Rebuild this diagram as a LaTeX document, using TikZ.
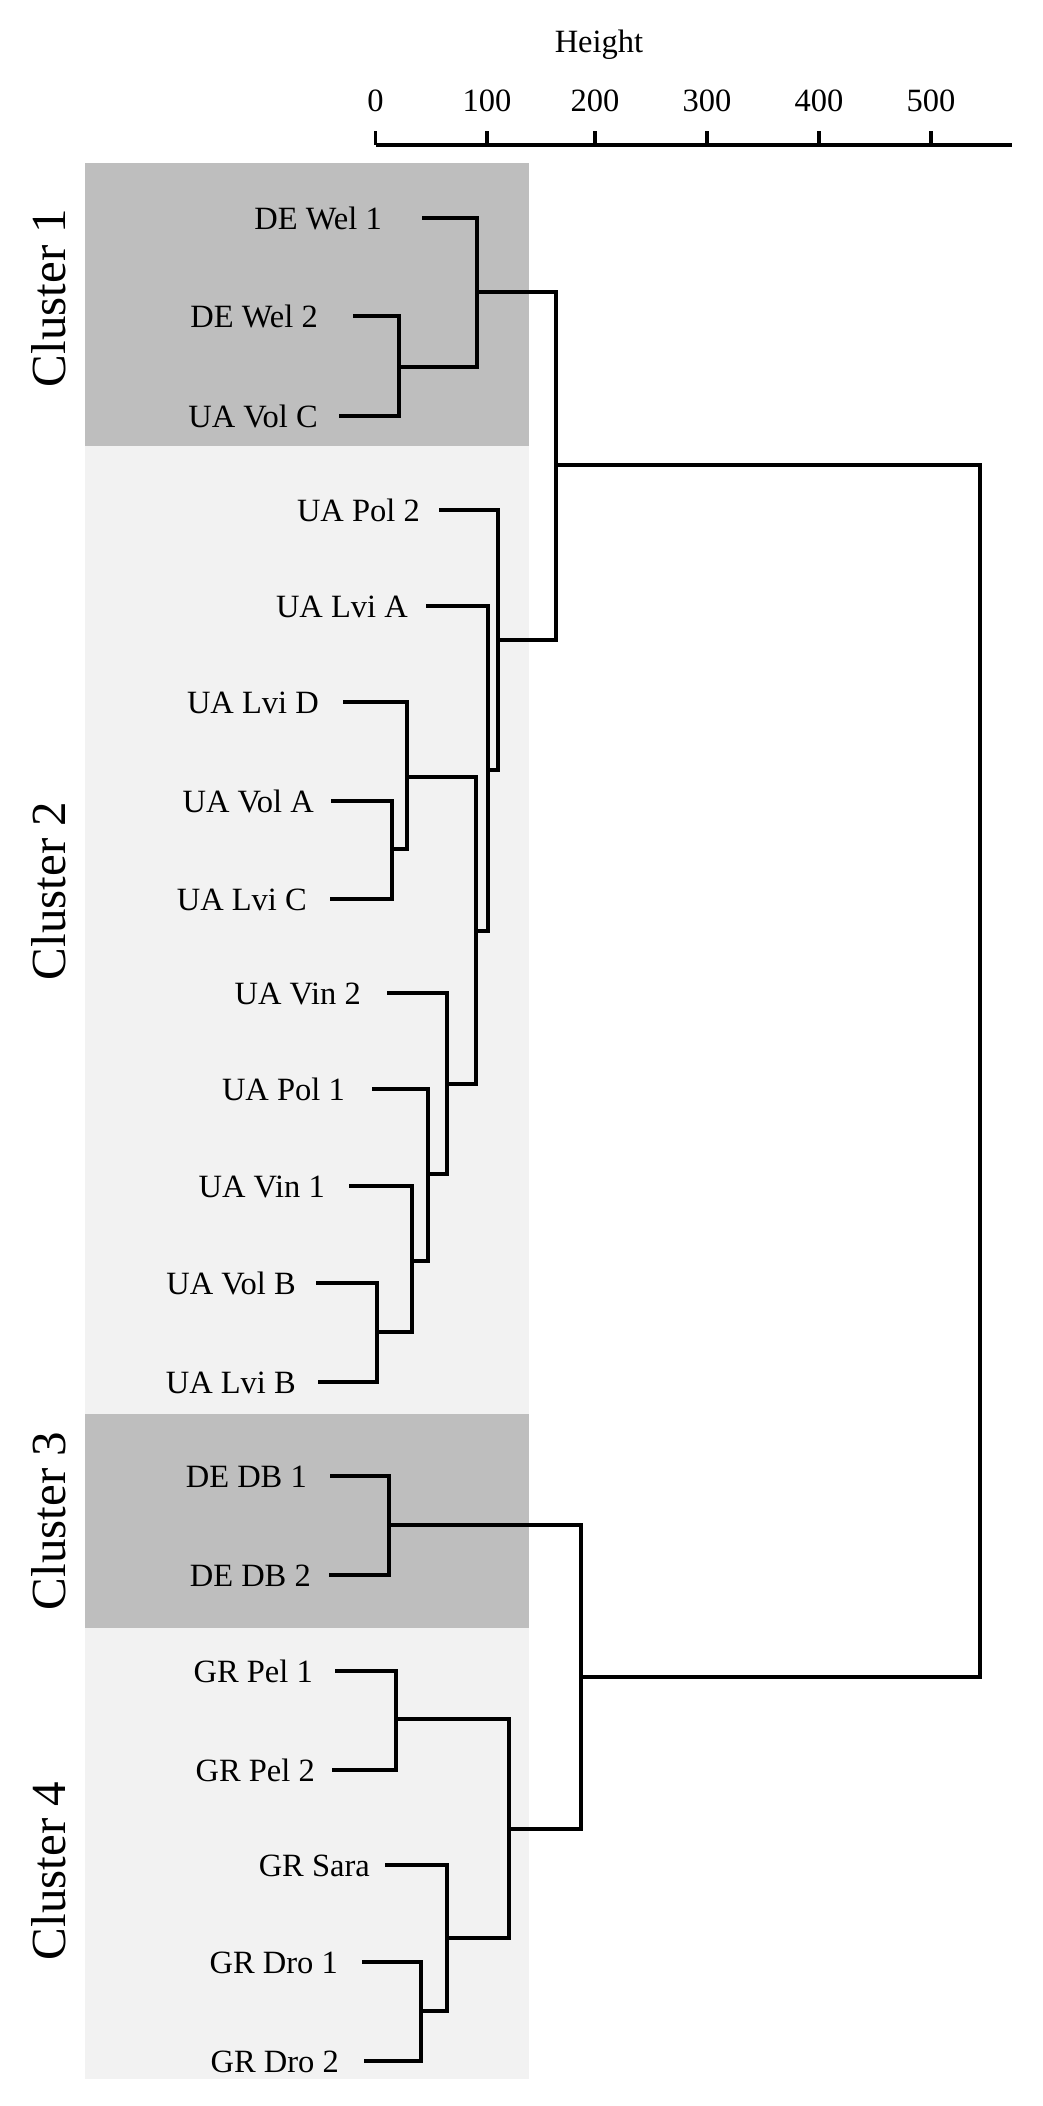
\documentclass[tikz,border=0pt]{standalone}
\usepackage{fontspec}
\setmainfont{Liberation Serif}
\definecolor{boxdark}{RGB}{190,190,190}
\definecolor{boxlight}{RGB}{242,242,242}
\begin{document}
\begin{tikzpicture}[x=1pt,y=-1pt,
  link/.style={line width=3.6pt, black},
  axisline/.style={line width=3.8pt, black},
  leaf/.style={anchor=base east, inner sep=0pt, font=\fontsize{32.5}{39}\selectfont},
  clabel/.style={anchor=base, rotate=90, inner sep=0pt, font=\fontsize{49}{58}\selectfont},
  ticklabel/.style={anchor=base, inner sep=0pt, font=\fontsize{32.5}{39}\selectfont}]
\useasboundingbox (0,0) rectangle (1043,2106);
\fill[white] (0,0) rectangle (1043,2106);
% cluster backgrounds
\fill[boxdark]  (85,163)  rectangle (529,446);
\fill[boxlight] (85,446)  rectangle (529,1414);
\fill[boxdark]  (85,1414) rectangle (529,1628);
\fill[boxlight] (85,1628) rectangle (529,2079);
% cluster labels
\node[clabel] (cl1) at (65,298)  {Cluster 1};
\node[clabel] (cl2) at (65,891)  {Cluster 2};
\node[clabel] (cl3) at (65,1521) {Cluster 3};
\node[clabel] (cl4) at (65,1871) {Cluster 4};
% axis
\node[ticklabel] (htitle) at (599,53) {Height};
\coordinate (a0) at (375.5,145);
\coordinate (aend) at (1012,145);
\draw[axisline] (a0) -- (aend);
\foreach \h/\x in {0/375.5,100/487,200/595,300/707,400/819,500/931}{
  \coordinate (t\h) at (\x,145);
  \coordinate (tt\h) at (\x,131);
  \draw[axisline] (t\h) -- (tt\h);
  \node[ticklabel] (tl\h) at (\x,112) {\h};
}
% leaf labels
\node[leaf] (n1)  at (382,229)  {DE Wel 1};
\node[leaf] (n2)  at (318,327)  {DE Wel 2};
\node[leaf] (n3)  at (318,427)  {UA Vol C};
\node[leaf] (n4)  at (420,521)  {UA Pol 2};
\node[leaf] (n5)  at (408,617)  {UA Lvi A};
\node[leaf] (n6)  at (319,713)  {UA Lvi D};
\node[leaf] (n7)  at (314,812)  {UA Vol A};
\node[leaf] (n8)  at (307,910)  {UA Lvi C};
\node[leaf] (n9)  at (361,1004) {UA Vin 2};
\node[leaf] (n10) at (345,1100) {UA Pol 1};
\node[leaf] (n11) at (325,1197) {UA Vin 1};
\node[leaf] (n12) at (296,1294) {UA Vol B};
\node[leaf] (n13) at (296,1393) {UA Lvi B};
\node[leaf] (n14) at (307,1487) {DE DB 1};
\node[leaf] (n15) at (311,1586) {DE DB 2};
\node[leaf] (n16) at (313,1682) {GR Pel 1};
\node[leaf] (n17) at (315,1781) {GR Pel 2};
\node[leaf] (n18) at (370,1876) {GR Sara};
\node[leaf] (n19) at (338,1973) {GR Dro 1};
\node[leaf] (n20) at (339,2072) {GR Dro 2};
% leaf line ends
\coordinate (lw1) at (422,218);
\coordinate (lw2) at (353,316);
\coordinate (lvc) at (339,416);
\coordinate (lp2) at (439,510);
\coordinate (lla) at (426,606);
\coordinate (lld) at (343,702);
\coordinate (lva) at (331,801);
\coordinate (llc) at (330,899);
\coordinate (lv2) at (387,993);
\coordinate (lp1) at (372,1089);
\coordinate (lv1) at (349,1186);
\coordinate (lvb) at (316,1283);
\coordinate (llb) at (318,1382);
\coordinate (ld1) at (330,1476);
\coordinate (ld2) at (329,1575);
\coordinate (lg1) at (335,1671);
\coordinate (lg2) at (332,1770);
\coordinate (lsa) at (385,1865);
\coordinate (ldr1) at (362,1962);
\coordinate (ldr2) at (364,2061);
% merge points
\coordinate (m1) at (399,367);
\coordinate (m2) at (477,292);
\coordinate (m3) at (392,849);
\coordinate (m4) at (407,777);
\coordinate (m5) at (377,1332);
\coordinate (m6) at (412,1261);
\coordinate (m7) at (428,1174);
\coordinate (m8) at (447,1084);
\coordinate (m9) at (476,931);
\coordinate (m10) at (488,770);
\coordinate (m11) at (498,640);
\coordinate (c12) at (556,465);
\coordinate (d1) at (389,1525);
\coordinate (g1) at (396,1719);
\coordinate (g2) at (421,2011);
\coordinate (g3) at (447,1938);
\coordinate (g4) at (509,1829);
\coordinate (c34) at (581,1677);
\coordinate (root) at (980,1070);
% dendrogram
\draw[link] (lw2) -| (m1) |- (lvc);
\draw[link] (lw1) -| (m2) |- (m1);
\draw[link] (lva) -| (m3) |- (llc);
\draw[link] (lld) -| (m4) |- (m3);
\draw[link] (lvb) -| (m5) |- (llb);
\draw[link] (lv1) -| (m6) |- (m5);
\draw[link] (lp1) -| (m7) |- (m6);
\draw[link] (lv2) -| (m8) |- (m7);
\draw[link] (m4) -| (m9) |- (m8);
\draw[link] (lla) -| (m10) |- (m9);
\draw[link] (lp2) -| (m11) |- (m10);
\draw[link] (m2) -| (c12) |- (m11);
\draw[link] (ld1) -| (d1) |- (ld2);
\draw[link] (lg1) -| (g1) |- (lg2);
\draw[link] (ldr1) -| (g2) |- (ldr2);
\draw[link] (lsa) -| (g3) |- (g2);
\draw[link] (g1) -| (g4) |- (g3);
\draw[link] (d1) -| (c34) |- (g4);
\draw[link] (c12) -| (root) |- (c34);
\end{tikzpicture}
\end{document}
